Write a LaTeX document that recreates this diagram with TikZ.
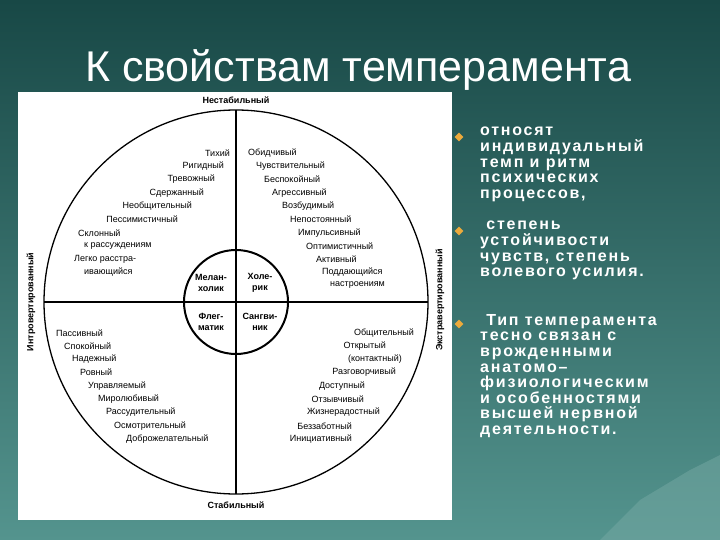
\documentclass[tikz,border=0pt]{standalone}
\usepackage{fontspec}
\setmainfont{Liberation Sans}
\newfontfamily\bodyfont[LetterSpace=11]{Liberation Sans}
\usetikzlibrary{shapes.geometric}
\definecolor{bgtop}{RGB}{24,72,70}
\definecolor{bgbot}{RGB}{84,148,142}
\definecolor{bul}{RGB}{236,170,60}
\begin{document}
\begin{tikzpicture}[x=1pt,y=-1pt,
  tr/.style={font=\fontsize{9}{9}\selectfont,inner sep=0pt},
  lab/.style={font=\fontsize{9}{9}\selectfont\bfseries,inner sep=0pt},
  inn/.style={font=\fontsize{9}{11}\selectfont\bfseries,align=center,inner sep=0pt},
  body/.style={font=\bodyfont\fontsize{16}{15.6}\selectfont\bfseries,text=white,align=left,anchor=north west,inner sep=0pt},
  bullet/.style={diamond,fill=bul,minimum size=9pt,inner sep=0pt}]
\useasboundingbox (0,0) rectangle (720,540);
\shade[top color=bgtop,bottom color=bgbot] (0,0) rectangle (720,540);
\fill[bgbot!80!white,opacity=0.5] (600,540) -- (640,500) -- (665,485) -- (690,470) -- (720,455) -- (720,540) -- cycle;
\node[text=white,font=\fontsize{43}{44}\selectfont] (title) at (358,70) {К свойствам темперамента};
\fill[white] (18,92) rectangle (452,520);
\coordinate (c) at (236,302);
\draw[line width=1.3pt] (c) circle (192);
\draw[line width=1.3pt] (44,302) -- (428,302);
\draw[line width=1.3pt] (236,110) -- (236,494);
\draw[line width=2pt,fill=white] (c) circle (52);
\draw[line width=1.3pt] (184,302) -- (288,302) (236,250) -- (236,354);
\node[lab] (n1) at (236,100) {Нестабильный};
\node[lab] (n2) at (236,505) {Стабильный};
\node[lab,rotate=90] (n3) at (31,302) {Интровертированный};
\node[lab,rotate=90] (n4) at (440,300) {Экстравертированный};
\node[inn] (m) at (211,283) {Мелан-\\холик};
\node[inn] (h) at (260,283) {Холе-\\рик};
\node[inn] (f) at (211,322) {Флег-\\матик};
\node[inn] (s) at (260,322) {Сангви-\\ник};
% upper left
\node[tr,anchor=east] (a1) at (230,153) {Тихий};
\node[tr,anchor=east] (a2) at (224,166) {Ригидный};
\node[tr,anchor=east] (a3) at (215,179) {Тревожный};
\node[tr,anchor=east] (a4) at (204,193) {Сдержанный};
\node[tr,anchor=east] (a5) at (192,206) {Необщительный};
\node[tr,anchor=east] (a6) at (178,219) {Пессимистичный};
\node[tr,anchor=west] (a7) at (78,233) {Склонный};
\node[tr,anchor=west] (a8) at (84,246) {к рассуждениям};
\node[tr,anchor=west] (a9) at (74,259) {Легко расстра-};
\node[tr,anchor=west] (a10) at (84,272) {ивающийся};
% upper right
\node[tr,anchor=west] (b1) at (248,153) {Обидчивый};
\node[tr,anchor=west] (b2) at (256,166) {Чувствительный};
\node[tr,anchor=west] (b3) at (264,179) {Беспокойный};
\node[tr,anchor=west] (b4) at (272,193) {Агрессивный};
\node[tr,anchor=west] (b5) at (282,206) {Возбудимый};
\node[tr,anchor=west] (b6) at (290,219) {Непостоянный};
\node[tr,anchor=west] (b7) at (298,233) {Импульсивный};
\node[tr,anchor=west] (b8) at (306,246) {Оптимистичный};
\node[tr,anchor=west] (b9) at (316,259) {Активный};
\node[tr,anchor=west] (b10) at (322,272) {Поддающийся};
\node[tr,anchor=west] (b11) at (330,285) {настроениям};
% lower left
\node[tr,anchor=west] (d1) at (56,333) {Пассивный};
\node[tr,anchor=west] (d2) at (64,346) {Спокойный};
\node[tr,anchor=west] (d3) at (72,359) {Надежный};
\node[tr,anchor=west] (d4) at (80,372) {Ровный};
\node[tr,anchor=west] (d5) at (88,386) {Управляемый};
\node[tr,anchor=west] (d6) at (98,399) {Миролюбивый};
\node[tr,anchor=west] (d7) at (106,412) {Рассудительный};
\node[tr,anchor=west] (d8) at (114,426) {Осмотрительный};
\node[tr,anchor=west] (d9) at (126,439) {Доброжелательный};
% lower right
\node[tr,anchor=east] (e1) at (414,333) {Общительный};
\node[tr,anchor=east] (e2) at (386,346) {Открытый};
\node[tr,anchor=east] (e3) at (402,359) {(контактный)};
\node[tr,anchor=east] (e4) at (396,372) {Разговорчивый};
\node[tr,anchor=east] (e5) at (365,386) {Доступный};
\node[tr,anchor=east] (e6) at (364,399) {Отзывчивый};
\node[tr,anchor=east] (e7) at (380,412) {Жизнерадостный};
\node[tr,anchor=east] (e8) at (352,426) {Беззаботный};
\node[tr,anchor=east] (e9) at (352,439) {Инициативный};
% right text
\node[bullet] (u1) at (459,137) {};
\node[bullet] (u2) at (459,231) {};
\node[bullet] (u3) at (459,324) {};
\node[body] (t1) at (480,127) {относят\\индивидуальный\\темп и ритм\\психических\\процессов,};
\node[body] (t2) at (480,221) {\ степень\\устойчивости\\чувств, степень\\волевого усилия.};
\node[body] (t3) at (480,314) {\ Тип темперамента\\тесно связан с\\врожденными\\анатомо–\\физиологическим\\и особенностями\\высшей нервной\\деятельности.};
\end{tikzpicture}
\end{document}
